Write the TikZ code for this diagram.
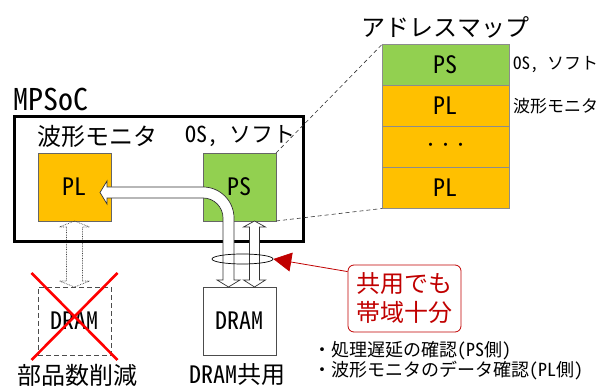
\documentclass[tikz,border=0pt]{standalone}
\usepackage{fontspec}
\setmainfont{Noto Sans Mono CJK JP}
\usepackage{tikz}
\usetikzlibrary{positioning,calc,arrows.meta,shapes.geometric}
\usepackage{xcolor}

\definecolor{plorange}{HTML}{FFC000}
\definecolor{psgreen}{HTML}{92D050}
\definecolor{notered}{HTML}{C00000}
\newcommand{\fsz}[1]{\fontsize{#1}{#1}\selectfont}

\tikzset{
  lbl/.style={inner sep=0, font=\fsz{24}},
  blk/.style={rectangle, draw=black!60, line width=0.8pt, minimum width=73, minimum height=68, inner sep=0, outer sep=0, font=\fsz{24}},
  maprow/.style={rectangle, draw=black!45, line width=0.8pt, minimum width=127, minimum height=41, inner sep=0, outer sep=0, fill=plorange, font=\fsz{24}},
  sidelbl/.style={inner sep=0, font=\fsz{17}},
  hollow/.style={draw=black!80, line width=0.7pt, fill=white, line join=miter},
  maplink/.style={draw=black!80, line width=0.6pt, dash pattern=on 4pt off 3pt},
  redx/.style={draw=red, line width=2.6pt},
  notebox/.style={rectangle, draw=notered, line width=0.8pt, rounded corners=6, minimum width=113, minimum height=67, align=center, text=notered, font=\fontsize{24}{29}\selectfont}
}

\begin{document}
\begin{tikzpicture}[x=1pt, y=1pt]
\useasboundingbox (0,0) rectangle (604,387);

% MPSoC
\node[lbl, font=\fsz{30}] (mpsoc) at (51,288) {MPSoC};
\node[lbl] (plname) at (97,251) {波形モニタ};
\node[lbl, font=\fsz{22}] (psname) at (240,251) {OS, ソフト};

\node[blk, fill=plorange] (pl) at (74.5,200) {PL};
\node[blk, fill=psgreen, right=92pt of pl] (ps) {PS};

% DRAM
\node[blk, draw=black!70, fill=white, below=66pt of ps] (dram) {DRAM};
\node[blk, draw=black!70, dash pattern=on 5pt off 3pt, below=66pt of pl] (dram0) {DRAM};
\draw[redx] ($(dram0.center)+(-43,48)$) -- ($(dram0.center)+(43,-39)$);
\draw[redx] ($(dram0.center)+(43,48)$) -- ($(dram0.center)+(-43,-39)$);
\node[lbl] (cut) at (77,12) {部品数削減};
\node[lbl] (share) at (237,12) {DRAM共用};

% hollow arrows
\draw[hollow, densely dotted, draw=black!75, fill=none] let \p1=(pl.south), \p2=(dram0.north) in
  (\p1) -- ++(15,-6) -- ++(-7,0) -- (\x2+8pt,\y2+6pt) -- ++(7,0) -- (\p2) -- ++(-15,6) -- ++(7,0) -- (\x1-8pt,\y1-6pt) -- ++(-7,0) -- cycle;
\node[rectangle, draw, line width=3pt, minimum width=289, minimum height=125, inner sep=0] (soc) at (159,208) {};

% address map
\node[lbl] (maptitle) at (445,360) {アドレスマップ};
\node[maprow, fill=psgreen] (r1) at (445.5,322) {PS};
\node[maprow, below=0pt of r1] (r2) {PL};
\node[maprow, below=0pt of r2] (r3) {\fsz{15}・・・};
\node[maprow, below=0pt of r3] (r4) {PL};
\node[sidelbl, right=4pt of r1] (osname) {OS, ソフト};
\node[sidelbl, right=4pt of r2] (monname) {波形モニタ};
\draw[maplink] (ps.north east) -- (r1.north west);
\draw[maplink] (ps.south east) -- (r4.south west);

\coordinate (rtop) at ($(ps.south)+(15,0)$);
\coordinate (rbot) at ($(dram.north)+(15,0)$);
\draw[hollow] let \p1=(rtop), \p2=(rbot) in
  (\p1) -- ++(11,-6) -- ++(-6,0) -- (\x2+5pt,\y2+7pt) -- ++(6,0) -- (\p2) -- ++(-11,7) -- ++(6,0) -- (\x1-5pt,\y1-6pt) -- ++(-6,0) -- cycle;

\coordinate (ltip) at ($(pl.east)+(-11,-5.5)$);
\coordinate (btip) at ($(dram.north)+(-11,0)$);
\draw[hollow] let \p1=(ltip), \p2=(btip) in
  (\p1) -- ++(7,11.5) -- ++(0,-6) -- (\x2-25.5pt,\y1+5.5pt) arc[start angle=90, end angle=0, radius=31]
  -- (\x2+5.5pt,\y2+7pt) -- ++(6,0) -- (\p2) -- ++(-11.5,7) -- ++(6,0)
  -- (\x2-5.5pt,\y1-25.5pt) arc[start angle=0, end angle=90, radius=20]
  -- (\x1+7pt,\y1-5.5pt) -- ++(0,-6) -- cycle;

\node[ellipse, draw, line width=0.7pt, minimum width=61, minimum height=10, inner sep=0] (bus) at (242.5,128) {};

% note
\node[notebox] (note) at (404.5,88.5) {共用でも\\帯域十分};
\draw[notered, line width=0.8pt, -{Triangle[length=18pt, width=19pt]}] ($(note.north west)+(0,-7)$) -- (bus.east);

\node[inner sep=0, anchor=west, align=left, font=\fontsize{18}{18}\selectfont] (todo) at (313,26) {・処理遅延の確認(PS側)\\・波形モニタのデータ確認(PL側)};
\end{tikzpicture}
\end{document}
